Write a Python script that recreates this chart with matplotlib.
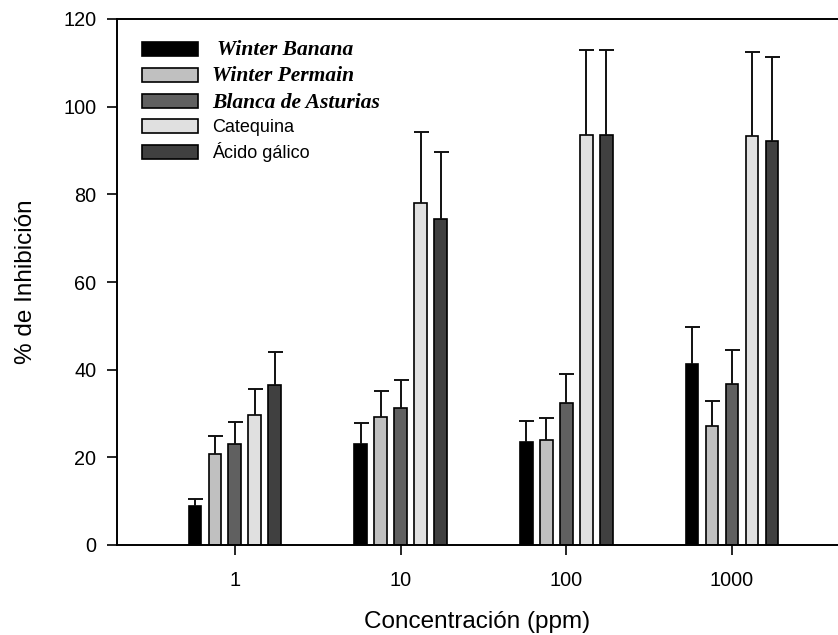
import matplotlib
matplotlib.use("Agg")
import matplotlib.pyplot as plt
import numpy as np

categories = ["1", "10", "100", "1000"]
series_names = [" Winter Banana", "Winter Permain", "Blanca de Asturias", "Catequina", "Ácido gálico"]
winter_banana = [8.9, 23.1, 23.5, 41.4]
winter_banana_err = [1.7, 4.7, 4.8, 8.4]
winter_permain = [20.7, 29.2, 24.0, 27.2]
winter_permain_err = [4.2, 5.9, 4.9, 5.6]
blanca_asturias = [23.1, 31.2, 32.4, 36.8]
blanca_asturias_err = [4.9, 6.5, 6.5, 7.6]
catequina = [29.6, 78.1, 93.6, 93.2]
catequina_err = [6.1, 16.2, 19.4, 19.2]
acido_galico = [36.5, 74.3, 93.6, 92.2]
acido_galico_err = [7.5, 15.4, 19.4, 19.1]

values = [winter_banana, winter_permain, blanca_asturias, catequina, acido_galico]
errors = [winter_banana_err, winter_permain_err, blanca_asturias_err, catequina_err, acido_galico_err]
colors = ["#000000", "#c0c0c0", "#606060", "#e0e0e0", "#404040"]

plt.rcParams['font.family'] = ['Liberation Sans', 'DejaVu Sans']

fig = plt.figure(figsize=(8.38, 6.35), dpi=100)
ax = fig.add_axes([117/838, 90/635, 721/838, 526/635])

x = np.arange(len(categories))
pitch = 0.1207
width = 0.078
handles = []
for i, (vals, errs, c, name) in enumerate(zip(values, errors, colors, series_names)):
    pos = x + (i - 2) * pitch
    cont = ax.bar(pos, vals, width=width, color=c, edgecolor="black", linewidth=1.2,
                  yerr=[np.zeros(len(errs)), errs], label=name,
                  error_kw=dict(ecolor="#111111", elinewidth=1.4, capsize=5.4, capthick=1.4))
    caplines = cont.errorbar.lines[1]
    if len(caplines) > 0:
        caplines[0].set_visible(False)
    handles.append(cont)

ax.set_xlim(-0.712, 3.64)
ax.set_ylim(0, 120)
ax.set_yticks(np.arange(0, 121, 20))
ax.set_xticks(x)
ax.set_xticklabels(categories)
ax.tick_params(axis='both', direction='out', length=7, width=1.2, labelsize=14.3, pad=8)
ax.tick_params(axis='x', pad=12)
for s in ['left', 'bottom', 'top']:
    ax.spines[s].set_linewidth(1.4)
ax.spines['right'].set_visible(False)

ax.set_xlabel("Concentración (ppm)", fontsize=17.5, labelpad=15)
ax.set_ylabel("% de Inhibición", fontsize=17.5, labelpad=19)

leg = ax.legend(handles=handles, labels=series_names, loc='upper left',
                bbox_to_anchor=(25/721, 1 - 21/526), frameon=False,
                prop={'size': 13}, handlelength=3.1, handleheight=0.8,
                handletextpad=0.8, labelspacing=0.35, borderpad=0, borderaxespad=0)
for j, t in enumerate(leg.get_texts()):
    if j < 3:
        t.set_fontfamily(['Liberation Serif', 'DejaVu Serif'])
        t.set_fontstyle('italic')
        t.set_fontweight('bold')
        t.set_fontsize(15.5)
for p in leg.get_patches():
    p.set_linewidth(1.2)

fig.savefig("out.png", dpi=100)
